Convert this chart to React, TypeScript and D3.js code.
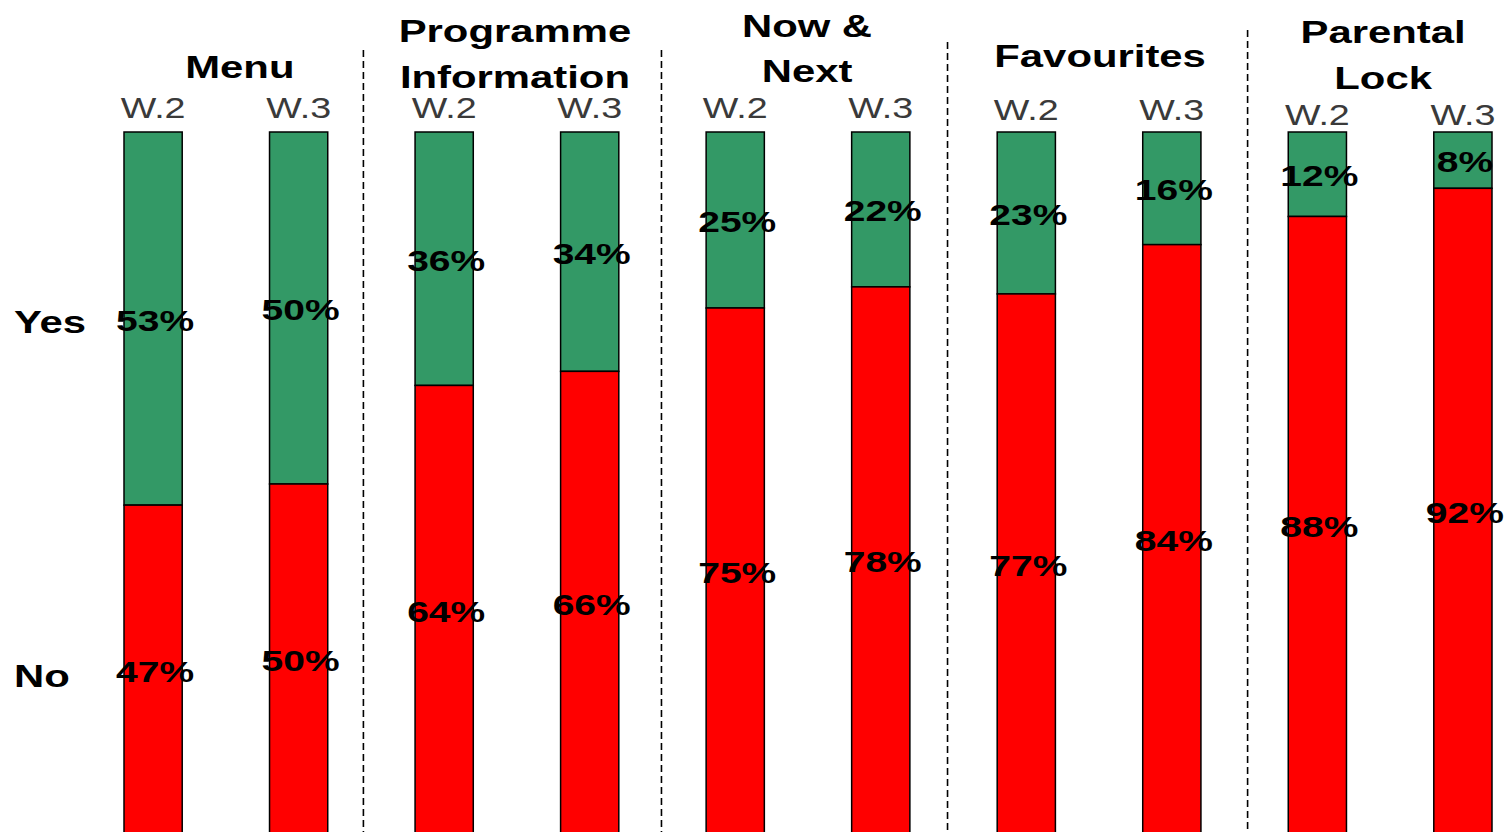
import { useEffect } from "react";
import * as d3 from "d3";

// features and waves
const features = ["Menu", "Programme Information", "Now & Next", "Favourites", "Parental Lock"];
const headerLines = [["Menu"], ["Programme", "Information"], ["Now &", "Next"], ["Favourites"], ["Parental", "Lock"]];
const waves = ["W.2", "W.3"];

// % Yes / % No per feature, [W.2, W.3]
const yesValues = [[53, 50], [36, 34], [25, 22], [23, 16], [12, 8]];
const noValues = [[47, 50], [64, 66], [75, 78], [77, 84], [88, 92]];

const rowLabels = ["Yes", "No"];

const W = 1505;
const H = 832;
const GREEN = "#339966";
const RED = "#ff0000";
const FONT = "'Liberation Sans', Arial, Helvetica, sans-serif";

// layout tweaks
const headerBaselines = [[78], [42, 88], [37, 82], [67], [43, 89]];
const headerShift = [14, -2, -1, 1, -7];
const waveBaseline = [118, 118, 118, 120, 125];
const dividerShift = [-8, -1, -6, 3];
const dividerTop = [50, 50, 42, 30];

export default function App() {
  useEffect(() => {
    document.body.style.margin = "0";
    document.body.style.overflow = "hidden";
  }, []);

  const keys = features.flatMap((f) => waves.map((w) => `${f}|${w}`));

  const x = d3.scaleBand<string>().domain(keys).range([124, 1492]).paddingInner(0.6).paddingOuter(0);
  const y = d3.scaleLinear().domain([0, 100]).range([132, 836]);
  const bw = x.bandwidth();

  const bars = features.flatMap((f, fi) =>
    waves.map((w, wi) => ({
      key: `${f}|${w}`,
      fi,
      wave: w,
      yes: yesValues[fi][wi],
      no: noValues[fi][wi],
    }))
  );

  const groupCenter = (fi: number) => {
    const a = x(`${features[fi]}|${waves[0]}`)!;
    const b = x(`${features[fi]}|${waves[1]}`)! + bw;
    return (a + b) / 2;
  };

  const dividers = features.slice(0, -1).map((f, i) => {
    const right = x(`${f}|${waves[1]}`)! + bw;
    const left = x(`${features[i + 1]}|${waves[0]}`)!;
    return { x: (right + left) / 2 + dividerShift[i], top: dividerTop[i] };
  });

  const first = bars[0];

  return (
    <svg width={W} height={H} style={{ display: "block", background: "#fff" }} fontFamily={FONT}>
      {dividers.map((d, i) => (
        <line key={i} x1={d.x} x2={d.x} y1={d.top} y2={H} stroke="#000" strokeWidth={1.6} strokeDasharray="7,4" />
      ))}

      {headerLines.map((lines, fi) =>
        lines.map((t, li) => (
          <g key={`${fi}-${li}`} transform={`translate(${groupCenter(fi) + headerShift[fi]},${headerBaselines[fi][li]}) scale(1.35,1)`}>
            <text textAnchor="middle" fontSize={31} fontWeight="bold" fill="#000">{t}</text>
          </g>
        ))
      )}

      {bars.map((b) => (
        <g key={`w-${b.key}`} transform={`translate(${x(b.key)! + bw / 2},${waveBaseline[b.fi]}) scale(1.3,1)`}>
          <text textAnchor="middle" fontSize={29} fill="#3a3a3a">{b.wave}</text>
        </g>
      ))}

      {bars.map((b) => (
        <g key={b.key}>
          <rect x={x(b.key)} y={y(0)} width={bw} height={y(b.yes) - y(0)} fill={GREEN} stroke="#000" strokeWidth={1.5} />
          <rect x={x(b.key)} y={y(b.yes)} width={bw} height={y(100) - y(b.yes)} fill={RED} stroke="#000" strokeWidth={1.5} />
        </g>
      ))}

      {bars.map((b) => {
        const cx = x(b.key)! + bw / 2 + 2;
        const mYes = (y(0) + y(b.yes)) / 2 + 12;
        const mNo = (y(b.yes) + y(100)) / 2 + 11;
        return (
          <g key={`l-${b.key}`}>
            <g transform={`translate(${cx},${mYes}) scale(1.3,1)`}>
              <text textAnchor="middle" fontSize={30} fontWeight="bold" fill="#000">{`${b.yes}%`}</text>
            </g>
            <g transform={`translate(${cx},${mNo}) scale(1.3,1)`}>
              <text textAnchor="middle" fontSize={30} fontWeight="bold" fill="#000">{`${b.no}%`}</text>
            </g>
          </g>
        );
      })}

      <g transform={`translate(14,${(y(0) + y(first.yes)) / 2 + 14}) scale(1.35,1)`}>
        <text fontSize={31} fontWeight="bold" fill="#000">{rowLabels[0]}</text>
      </g>
      <g transform={`translate(14,${(y(first.yes) + y(100)) / 2 + 16}) scale(1.35,1)`}>
        <text fontSize={31} fontWeight="bold" fill="#000">{rowLabels[1]}</text>
      </g>
    </svg>
  );
}
